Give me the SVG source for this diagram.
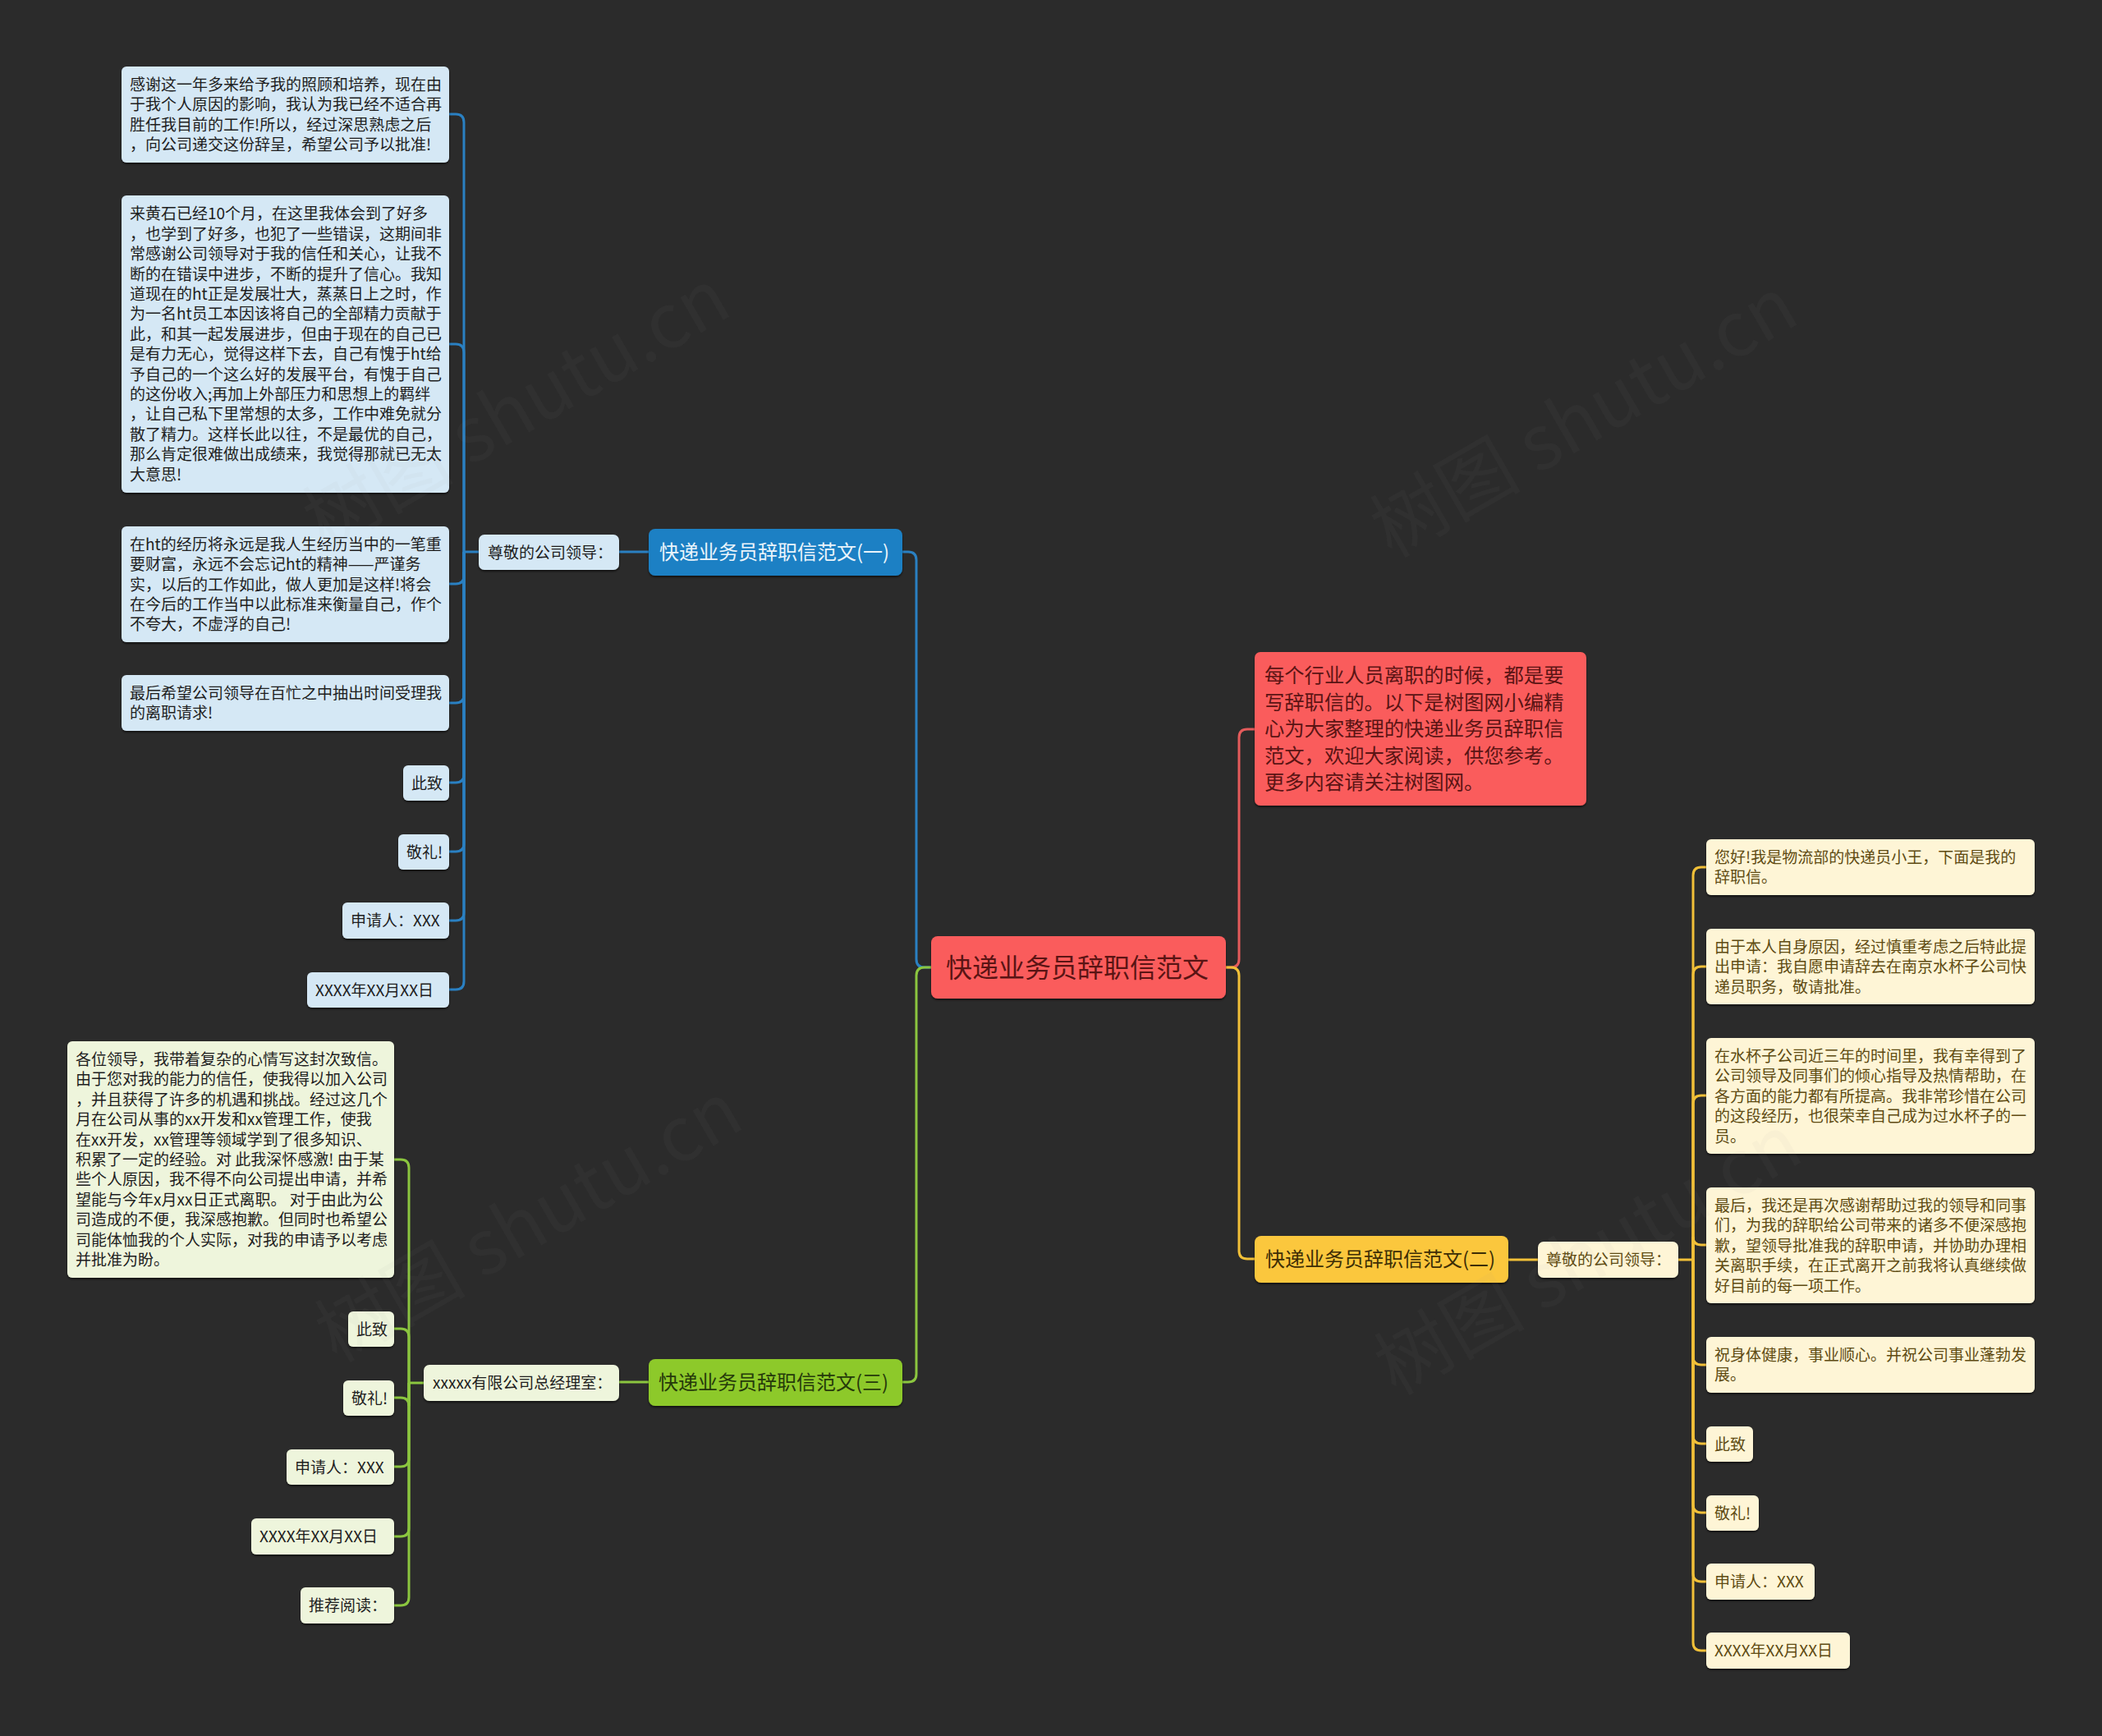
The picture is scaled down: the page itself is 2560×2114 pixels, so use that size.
<svg xmlns="http://www.w3.org/2000/svg" width="2560" height="2114" viewBox="0 0 2560 2114">
<defs>
<filter id="sh" x="-5%" y="-5%" width="110%" height="120%"><feDropShadow dx="0" dy="2" stdDeviation="1.2" flood-color="#000" flood-opacity="0.55"/></filter>
</defs>
<style>
text{font-family:"Noto Sans CJK SC","Noto Sans",sans-serif;}
.lf{font-size:19px;}
.bl rect{fill:#d5e8f5;} .bl text{fill:#1e1e1e;}
.gl rect{fill:#eef5dc;} .gl text{fill:#1e1e1e;}
.yl rect{fill:#fef5d6;} .yl text{fill:#5e4b12;}
.nd rect{filter:url(#sh);}
.cb{fill:none;stroke:#2a80c2;stroke-width:3;}
.cg{fill:none;stroke:#8bc63f;stroke-width:3;}
.cy{fill:none;stroke:#f2c038;stroke-width:3;}
.cr{fill:none;stroke:#e45b5b;stroke-width:3;}
.wm{font-size:92px;fill:#a0a0a0;fill-opacity:0.05;}
</style>
<rect x="0" y="0" width="2560" height="2114" fill="#2b2b2b"/>

<g id="connectors">
<path class="cb" d="M1134 1178 H1126 Q1116 1178 1116 1168 V682 Q1116 672 1106 672 H1098"/>
<path class="cg" d="M1134 1178 H1126 Q1116 1178 1116 1188 V1673 Q1116 1683 1106 1683 H1099"/>
<path class="cr" d="M1493 1178 H1499 Q1509 1178 1509 1168 V898 Q1509 888 1519 888 H1528"/>
<path class="cy" d="M1493 1178 H1499 Q1509 1178 1509 1188 V1523 Q1509 1533 1519 1533 H1528"/>
<path class="cb" d="M790 672 H754"/>
<path class="cb" d="M583 672 H565"/>
<path class="cb" d="M565 672 V149 Q565 139 555 139 H547"/>
<path class="cb" d="M565 672 V429 Q565 419 555 419 H547"/>
<path class="cb" d="M565 672 V701 Q565 711 555 711 H547"/>
<path class="cb" d="M565 672 V846 Q565 856 555 856 H547"/>
<path class="cb" d="M565 672 V943 Q565 953 555 953 H547"/>
<path class="cb" d="M565 672 V1027 Q565 1037 555 1037 H547"/>
<path class="cb" d="M565 672 V1111 Q565 1121 555 1121 H547"/>
<path class="cb" d="M565 672 V1195 Q565 1205 555 1205 H547"/>
<path class="cg" d="M790 1683 H754"/>
<path class="cg" d="M516 1684 H498"/>
<path class="cg" d="M498 1684 V1422 Q498 1412 488 1412 H480"/>
<path class="cg" d="M498 1684 V1628 Q498 1618 488 1618 H480"/>
<path class="cg" d="M498 1684 V1712 Q498 1702 488 1702 H480"/>
<path class="cg" d="M498 1684 V1776 Q498 1786 488 1786 H480"/>
<path class="cg" d="M498 1684 V1861 Q498 1871 488 1871 H480"/>
<path class="cg" d="M498 1684 V1945 Q498 1955 488 1955 H480"/>
<path class="cy" d="M1837 1534 H1873"/>
<path class="cy" d="M2044 1534 H2062"/>
<path class="cy" d="M2062 1534 V1066 Q2062 1056 2072 1056 H2078"/>
<path class="cy" d="M2062 1534 V1187 Q2062 1177 2072 1177 H2078"/>
<path class="cy" d="M2062 1534 V1344 Q2062 1334 2072 1334 H2078"/>
<path class="cy" d="M2062 1534 V1506 Q2062 1516 2072 1516 H2078"/>
<path class="cy" d="M2062 1534 V1652 Q2062 1662 2072 1662 H2078"/>
<path class="cy" d="M2062 1534 V1748 Q2062 1758 2072 1758 H2078"/>
<path class="cy" d="M2062 1534 V1832 Q2062 1842 2072 1842 H2078"/>
<path class="cy" d="M2062 1534 V1916 Q2062 1926 2072 1926 H2078"/>
<path class="cy" d="M2062 1534 V2000 Q2062 2010 2072 2010 H2078"/>
</g>

<g id="root" class="nd">
<rect x="1134" y="1140" width="359" height="76" rx="8" fill="#fa5b5b"/>
<text x="1152" y="1189.5" font-size="32" fill="#5a1414">快递业务员辞职信范文</text>
</g>

<g id="intro" class="nd">
<rect x="1528" y="794" width="404" height="187" rx="7" fill="#fa5b5b"/>
<text x="1540" y="831" font-size="24.3" fill="#5a1414">
<tspan x="1540">每个行业人员离职的时候，都是要</tspan>
<tspan x="1540" dy="32.5">写辞职信的。以下是树图网小编精</tspan>
<tspan x="1540" dy="32.5">心为大家整理的快递业务员辞职信</tspan>
<tspan x="1540" dy="32.5">范文，欢迎大家阅读，供您参考。</tspan>
<tspan x="1540" dy="32.5">更多内容请关注树图网。</tspan>
</text>
</g>

<g id="b1" class="nd">
<rect x="790" y="644" width="309" height="57" rx="8" fill="#1d80c4"/>
<text x="803" y="681" font-size="24" fill="#eaf4fb">快递业务员辞职信范文(一)</text>
</g>
<g id="b1s" class="nd bl">
<rect x="583" y="651" width="171" height="43" rx="7"/>
<text class="lf" x="594" y="679.5">尊敬的公司领导：</text>
</g>
<g id="b1l1" class="nd bl lf">
<rect x="148" y="81" width="399" height="117" rx="6"/>
<text x="158" y="110">
<tspan x="158">感谢这一年多来给予我的照顾和培养，现在由</tspan>
<tspan x="158" dy="24.4">于我个人原因的影响，我认为我已经不适合再</tspan>
<tspan x="158" dy="24.4">胜任我目前的工作!所以，经过深思熟虑之后</tspan>
<tspan x="158" dy="24.4">，向公司递交这份辞呈，希望公司予以批准!</tspan>
</text>
</g>
<g id="b1l2" class="nd bl lf">
<rect x="148" y="238" width="399" height="362" rx="6"/>
<text x="158" y="267.4">
<tspan x="158">来黄石已经10个月，在这里我体会到了好多</tspan>
<tspan x="158" dy="24.4">，也学到了好多，也犯了一些错误，这期间非</tspan>
<tspan x="158" dy="24.4">常感谢公司领导对于我的信任和关心，让我不</tspan>
<tspan x="158" dy="24.4">断的在错误中进步，不断的提升了信心。我知</tspan>
<tspan x="158" dy="24.4">道现在的ht正是发展壮大，蒸蒸日上之时，作</tspan>
<tspan x="158" dy="24.4">为一名ht员工本因该将自己的全部精力贡献于</tspan>
<tspan x="158" dy="24.4">此，和其一起发展进步，但由于现在的自己已</tspan>
<tspan x="158" dy="24.4">是有力无心，觉得这样下去，自己有愧于ht给</tspan>
<tspan x="158" dy="24.4">予自己的一个这么好的发展平台，有愧于自己</tspan>
<tspan x="158" dy="24.4">的这份收入;再加上外部压力和思想上的羁绊</tspan>
<tspan x="158" dy="24.4">，让自己私下里常想的太多，工作中难免就分</tspan>
<tspan x="158" dy="24.4">散了精力。这样长此以往，不是最优的自己，</tspan>
<tspan x="158" dy="24.4">那么肯定很难做出成绩来，我觉得那就已无太</tspan>
<tspan x="158" dy="24.4">大意思!</tspan>
</text>
</g>
<g id="b1l3" class="nd bl lf">
<rect x="148" y="641" width="399" height="141" rx="6"/>
<text x="158" y="669.7">
<tspan x="158">在ht的经历将永远是我人生经历当中的一笔重</tspan>
<tspan x="158" dy="24.4">要财富，永远不会忘记ht的精神——严谨务</tspan>
<tspan x="158" dy="24.4">实，以后的工作如此，做人更加是这样!将会</tspan>
<tspan x="158" dy="24.4">在今后的工作当中以此标准来衡量自己，作个</tspan>
<tspan x="158" dy="24.4">不夸大，不虚浮的自己!</tspan>
</text>
</g>
<g id="b1l4" class="nd bl lf">
<rect x="148" y="822" width="399" height="68" rx="6"/>
<text x="158" y="850.8">
<tspan x="158">最后希望公司领导在百忙之中抽出时间受理我</tspan>
<tspan x="158" dy="24.4">的离职请求!</tspan>
</text>
</g>
<g id="b1l5" class="nd bl lf"><rect x="491" y="932" width="56" height="43" rx="6"/><text x="501" y="960.5">此致</text></g>
<g id="b1l6" class="nd bl lf"><rect x="485" y="1016" width="62" height="43" rx="6"/><text x="495" y="1044.5">敬礼!</text></g>
<g id="b1l7" class="nd bl lf"><rect x="417" y="1099" width="130" height="44" rx="6"/><text x="427" y="1128">申请人：XXX</text></g>
<g id="b1l8" class="nd bl lf"><rect x="374" y="1184" width="173" height="43" rx="6"/><text x="384" y="1212.5">XXXX年XX月XX日</text></g>

<g id="b3" class="nd">
<rect x="790" y="1655" width="309" height="57" rx="8" fill="#8dc92c"/>
<text x="802" y="1692" font-size="24" fill="#263a0a">快递业务员辞职信范文(三)</text>
</g>
<g id="b3s" class="nd gl">
<rect x="516" y="1662" width="238" height="44" rx="7"/>
<text class="lf" x="527" y="1691">xxxxx有限公司总经理室：</text>
</g>
<g id="b3l1" class="nd gl lf">
<rect x="82" y="1268" width="398" height="288" rx="6"/>
<text x="92" y="1297">
<tspan x="92">各位领导，我带着复杂的心情写这封次致信。</tspan>
<tspan x="92" dy="24.4">由于您对我的能力的信任，使我得以加入公司</tspan>
<tspan x="92" dy="24.4">，并且获得了许多的机遇和挑战。经过这几个</tspan>
<tspan x="92" dy="24.4">月在公司从事的xx开发和xx管理工作，使我</tspan>
<tspan x="92" dy="24.4">在xx开发，xx管理等领域学到了很多知识、</tspan>
<tspan x="92" dy="24.4">积累了一定的经验。对 此我深怀感激! 由于某</tspan>
<tspan x="92" dy="24.4">些个人原因，我不得不向公司提出申请，并希</tspan>
<tspan x="92" dy="24.4">望能与今年x月xx日正式离职。 对于由此为公</tspan>
<tspan x="92" dy="24.4">司造成的不便，我深感抱歉。但同时也希望公</tspan>
<tspan x="92" dy="24.4">司能体恤我的个人实际，对我的申请予以考虑</tspan>
<tspan x="92" dy="24.4">并批准为盼。</tspan>
</text>
</g>
<g id="b3l2" class="nd gl lf"><rect x="424" y="1597" width="56" height="43" rx="6"/><text x="434" y="1625.5">此致</text></g>
<g id="b3l3" class="nd gl lf"><rect x="418" y="1681" width="62" height="43" rx="6"/><text x="428" y="1709.5">敬礼!</text></g>
<g id="b3l4" class="nd gl lf"><rect x="349" y="1765" width="131" height="43" rx="6"/><text x="359" y="1793.5">申请人：XXX</text></g>
<g id="b3l5" class="nd gl lf"><rect x="306" y="1849" width="174" height="44" rx="6"/><text x="316" y="1878">XXXX年XX月XX日</text></g>
<g id="b3l6" class="nd gl lf"><rect x="366" y="1933" width="114" height="44" rx="6"/><text x="376" y="1962">推荐阅读：</text></g>

<g id="b2" class="nd">
<rect x="1528" y="1505" width="309" height="57" rx="8" fill="#fbc73e"/>
<text x="1541" y="1542" font-size="24" fill="#3d2e05">快递业务员辞职信范文(二)</text>
</g>
<g id="b2s" class="nd yl">
<rect x="1873" y="1512" width="171" height="44" rx="7"/>
<text class="lf" x="1883" y="1541">尊敬的公司领导：</text>
</g>
<g id="b2l1" class="nd yl lf">
<rect x="2078" y="1022" width="400" height="68" rx="6"/>
<text x="2088" y="1050.7">
<tspan x="2088">您好!我是物流部的快递员小王，下面是我的</tspan>
<tspan x="2088" dy="24.5">辞职信。</tspan>
</text>
</g>
<g id="b2l2" class="nd yl lf">
<rect x="2078" y="1131" width="400" height="92" rx="6"/>
<text x="2088" y="1159.5">
<tspan x="2088">由于本人自身原因，经过慎重考虑之后特此提</tspan>
<tspan x="2088" dy="24.5">出申请：我自愿申请辞去在南京水杯子公司快</tspan>
<tspan x="2088" dy="24.5">递员职务，敬请批准。</tspan>
</text>
</g>
<g id="b2l3" class="nd yl lf">
<rect x="2078" y="1264" width="400" height="141" rx="6"/>
<text x="2088" y="1292.5">
<tspan x="2088">在水杯子公司近三年的时间里，我有幸得到了</tspan>
<tspan x="2088" dy="24.5">公司领导及同事们的倾心指导及热情帮助，在</tspan>
<tspan x="2088" dy="24.5">各方面的能力都有所提高。我非常珍惜在公司</tspan>
<tspan x="2088" dy="24.5">的这段经历，也很荣幸自己成为过水杯子的一</tspan>
<tspan x="2088" dy="24.5">员。</tspan>
</text>
</g>
<g id="b2l4" class="nd yl lf">
<rect x="2078" y="1446" width="400" height="141" rx="6"/>
<text x="2088" y="1474.5">
<tspan x="2088">最后，我还是再次感谢帮助过我的领导和同事</tspan>
<tspan x="2088" dy="24.5">们，为我的辞职给公司带来的诸多不便深感抱</tspan>
<tspan x="2088" dy="24.5">歉，望领导批准我的辞职申请，并协助办理相</tspan>
<tspan x="2088" dy="24.5">关离职手续，在正式离开之前我将认真继续做</tspan>
<tspan x="2088" dy="24.5">好目前的每一项工作。</tspan>
</text>
</g>
<g id="b2l5" class="nd yl lf">
<rect x="2078" y="1628" width="400" height="68" rx="6"/>
<text x="2088" y="1656.7">
<tspan x="2088">祝身体健康，事业顺心。并祝公司事业蓬勃发</tspan>
<tspan x="2088" dy="24.5">展。</tspan>
</text>
</g>
<g id="b2l6" class="nd yl lf"><rect x="2078" y="1737" width="57" height="43" rx="6"/><text x="2088" y="1765.5">此致</text></g>
<g id="b2l7" class="nd yl lf"><rect x="2078" y="1821" width="64" height="43" rx="6"/><text x="2088" y="1849.5">敬礼!</text></g>
<g id="b2l8" class="nd yl lf"><rect x="2078" y="1904" width="132" height="44" rx="6"/><text x="2088" y="1933">申请人：XXX</text></g>
<g id="b2l9" class="nd yl lf"><rect x="2078" y="1988" width="175" height="44" rx="6"/><text x="2088" y="2017">XXXX年XX月XX日</text></g>

<g id="watermark">
<text class="wm" x="630" y="530" text-anchor="middle" transform="rotate(-30 630 500)">树图 shutu.cn</text>
<text class="wm" x="1930" y="540" text-anchor="middle" transform="rotate(-30 1930 510)">树图 shutu.cn</text>
<text class="wm" x="645" y="1520" text-anchor="middle" transform="rotate(-30 645 1490)">树图 shutu.cn</text>
<text class="wm" x="1935" y="1560" text-anchor="middle" transform="rotate(-30 1935 1530)">树图 shutu.cn</text>
</g>
</svg>
